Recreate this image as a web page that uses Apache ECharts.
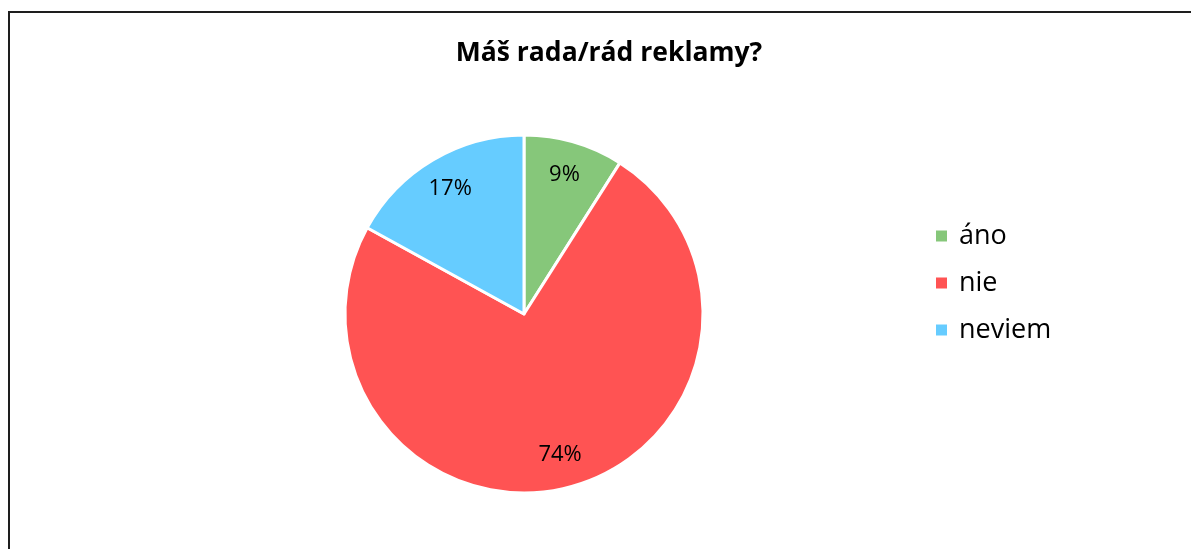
<!DOCTYPE html>
<html><head><meta charset="utf-8">
<script src="https://cdn.jsdelivr.net/npm/echarts@6/dist/echarts.min.js"></script>
<style>html,body{margin:0;padding:0;background:#fff}#c{width:1191px;height:549px}</style>
</head><body><div id="c"></div>
<script>
const titleText = 'Máš rada/rád reklamy?';
const categories = ['áno', 'nie', 'neviem'];
const values = [9, 74, 17];
const colors = ['#86C77A', '#FF5353', '#66CCFF'];

const data = categories.map((c, i) => ({ name: c, value: values[i], itemStyle: { color: colors[i] } }));
const FONT = '"Open Sans", sans-serif';
const chart = echarts.init(document.getElementById('c'));
chart.setOption({
  animation: false,
  backgroundColor: '#fff',
  title: { text: titleText, left: 604, textAlign: 'center', top: 35,
    textStyle: { fontFamily: FONT, fontWeight: 'bold', fontSize: 26.5, color: '#000' } },
  legend: { orient: 'vertical', left: 929, top: 215, itemWidth: 13, itemHeight: 13, itemGap: 15,
    icon: 'rect', data: categories,
    textStyle: { fontFamily: FONT, fontSize: 27, color: '#000', lineHeight: 32, padding: [0,0,0,6] } },
  graphic: [{ type: 'rect', shape: { x: 9, y: 12, width: 1300, height: 700 },
    style: { fill: 'none', stroke: '#1e1e1e', lineWidth: 2 }, silent: true }],
  series: [
    { type: 'pie', center: [524, 314], radius: 179, startAngle: 90, clockwise: true,
      data: data, label: { show: false }, labelLine: { show: false },
      itemStyle: { borderColor: '#fff', borderWidth: 3 } },
    { type: 'pie', center: [524, 314], radius: [105, 179], startAngle: 90, clockwise: true,
      silent: true, legendHoverLink: false,
      data: data.map(d => ({ name: d.name + ' ', value: d.value, itemStyle: { color: 'rgba(0,0,0,0)' } })),
      label: { show: true, position: 'inside', formatter: p => p.value + '%',
        fontFamily: FONT, fontSize: 22, color: '#000' },
      labelLine: { show: false } }
  ]
});
</script></body></html>
